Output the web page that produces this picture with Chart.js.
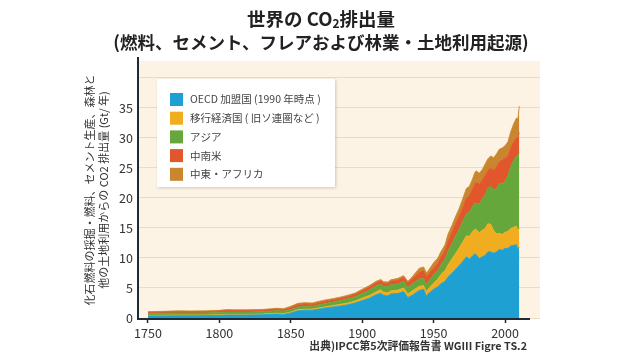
<!DOCTYPE html>
<html>
<head>
<meta charset="utf-8">
<script src="https://cdn.jsdelivr.net/npm/chart.js@4/dist/chart.umd.min.js"></script>
<style>
  html, body { margin: 0; padding: 0; background: #fff; }
  #wrap { width: 640px; height: 360px; }
</style>
</head>
<body>
<div id="wrap"><canvas id="co2Chart" width="640" height="360"></canvas></div>
<script>
// 年 (横軸)
const years = [1750, 1760, 1770, 1780, 1790, 1800, 1805, 1810, 1820, 1830, 1840, 1845,
  1850, 1855, 1860, 1865, 1870, 1875, 1880, 1885, 1890, 1895, 1900, 1905, 1910, 1913,
  1915, 1918, 1920, 1925, 1929, 1932, 1935, 1940, 1943, 1945, 1946, 1950, 1953, 1955,
  1958, 1960, 1963, 1965, 1968, 1970, 1973, 1975, 1977, 1979, 1980, 1982, 1984, 1986,
  1988, 1990, 1992, 1994, 1996, 1998, 2000, 2002, 2004, 2006, 2008, 2009, 2010];

// 地域別の排出量 (Gt/年)
const oecd = [0.35, 0.35, 0.38, 0.38, 0.40, 0.45, 0.50, 0.50, 0.50, 0.55, 0.65, 0.60,
  0.85, 1.20, 1.30, 1.30, 1.50, 1.70, 1.85, 2.00, 2.20, 2.50, 2.90, 3.30, 3.90, 4.10,
  3.80, 3.70, 4.00, 4.10, 4.40, 3.40, 3.80, 4.60, 4.80, 3.60, 4.00, 4.80, 5.20, 5.70,
  6.10, 6.80, 7.50, 8.00, 8.80, 9.30, 10.20, 9.80, 10.30, 10.70, 10.50, 9.90, 10.20, 10.40,
  11.00, 11.00, 10.80, 11.00, 11.40, 11.30, 11.60, 11.60, 12.00, 12.10, 12.20, 11.40, 11.80];
const transition = [0.10, 0.10, 0.12, 0.12, 0.10, 0.10, 0.12, 0.12, 0.10, 0.12, 0.15, 0.15,
  0.15, 0.20, 0.20, 0.20, 0.20, 0.20, 0.25, 0.30, 0.30, 0.35, 0.40, 0.45, 0.50, 0.60,
  0.50, 0.50, 0.50, 0.55, 0.60, 0.60, 0.70, 0.70, 0.60, 0.70, 0.80, 1.00, 1.30, 1.50,
  1.80, 2.00, 2.40, 2.60, 2.90, 3.20, 3.50, 3.80, 4.00, 4.10, 4.20, 4.30, 4.40, 4.50,
  4.70, 4.60, 3.80, 3.00, 2.70, 2.60, 2.70, 2.80, 2.90, 3.00, 3.10, 3.00, 3.20];
const asia = [0.30, 0.35, 0.35, 0.35, 0.35, 0.35, 0.38, 0.38, 0.40, 0.38, 0.40, 0.40,
  0.40, 0.45, 0.45, 0.45, 0.50, 0.55, 0.60, 0.65, 0.70, 0.70, 0.80, 0.90, 1.00, 0.90,
  1.00, 1.00, 1.05, 1.05, 1.10, 1.10, 1.20, 1.20, 1.20, 1.20, 1.10, 1.40, 1.40, 1.60,
  1.90, 2.30, 2.60, 2.90, 3.10, 3.40, 3.70, 4.00, 4.20, 4.40, 4.40, 4.80, 5.20, 5.60,
  5.90, 6.30, 6.80, 7.50, 8.30, 8.40, 8.50, 9.20, 10.30, 11.10, 11.70, 12.70, 12.50];
const latinAmerica = [0.20, 0.20, 0.20, 0.20, 0.20, 0.25, 0.25, 0.25, 0.25, 0.25, 0.28, 0.27,
  0.35, 0.40, 0.40, 0.35, 0.40, 0.40, 0.35, 0.35, 0.40, 0.40, 0.45, 0.50, 0.50, 0.55,
  0.50, 0.55, 0.55, 0.60, 0.65, 0.70, 0.80, 1.10, 1.30, 1.30, 1.30, 1.10, 1.20, 1.30,
  1.40, 1.60, 1.80, 2.00, 2.20, 2.20, 2.60, 2.70, 2.80, 3.20, 3.50, 3.30, 3.10, 3.20,
  3.00, 3.10, 3.20, 3.70, 3.60, 4.00, 3.80, 3.40, 3.10, 3.10, 3.00, 2.90, 3.40];
const middleEastAfrica = [0.10, 0.10, 0.15, 0.13, 0.15, 0.13, 0.15, 0.13, 0.13, 0.12, 0.14, 0.13,
  0.20, 0.20, 0.20, 0.20, 0.20, 0.20, 0.20, 0.20, 0.20, 0.20, 0.25, 0.25, 0.25, 0.25,
  0.25, 0.25, 0.25, 0.30, 0.30, 0.30, 0.35, 0.70, 0.60, 0.70, 0.60, 0.90, 0.90, 0.90,
  1.00, 1.20, 1.20, 1.20, 1.30, 1.50, 1.60, 1.60, 1.70, 1.90, 1.90, 1.80, 1.80, 1.90,
  1.90, 2.00, 2.10, 2.10, 2.10, 2.00, 2.10, 2.30, 2.70, 3.00, 3.30, 3.20, 4.40];

const seriesLabels = ['OECD 加盟国 (1990 年時点 )', '移行経済国 ( 旧ソ連圏など )', 'アジア', '中南米', '中東・アフリカ'];
const seriesColors = ['#1fa0d2', '#f1ad20', '#65a73b', '#e1562a', '#c9862f'];
const xTicks = [1750, 1800, 1850, 1900, 1950, 2000];
const yTicks = [0, 5, 10, 15, 20, 25, 30, 35, 40];

const JP = '"Noto Sans CJK JP", "Noto Sans", sans-serif';
const AXIS_COLOR = '#1f2a33';

function toPoints(values) {
  return years.map((yr, i) => ({ x: yr, y: values[i] }));
}

const allSeries = [oecd, transition, asia, latinAmerica, middleEastAfrica];
const datasets = allSeries.map((values, i) => ({
  label: seriesLabels[i],
  data: toPoints(values),
  backgroundColor: seriesColors[i],
  borderColor: seriesColors[i],
  borderWidth: 0.8,
  pointRadius: 0,
  tension: 0,
  fill: i === 0 ? 'origin' : '-1'
}));

// 背景、タイトル、凡例、軸タイトルなどを描く
const decorations = {
  id: 'decorations',
  beforeDraw(chart) {
    const { ctx, chartArea } = chart;
    ctx.save();
    ctx.fillStyle = '#fdf3e4';
    ctx.fillRect(chartArea.left, chartArea.top + 3, chartArea.right - chartArea.left, chartArea.bottom - chartArea.top - 3);
    ctx.restore();
  },
  afterDraw(chart) {
    const { ctx, chartArea } = chart;
    ctx.save();

    // 横軸の線 (背景より少し短い)
    ctx.strokeStyle = AXIS_COLOR;
    ctx.lineWidth = 2;
    ctx.beginPath();
    ctx.moveTo(chartArea.left - 1, chartArea.bottom + 1);
    ctx.lineTo(530, chartArea.bottom + 1);
    ctx.stroke();

    ctx.fillStyle = '#222';
    ctx.textBaseline = 'middle';

    // タイトル1行目 (CO2 の 2 は下付き)
    const p1 = '世界の CO', p2 = '排出量';
    ctx.font = 'bold 18.5px ' + JP;
    const w1 = ctx.measureText(p1).width;
    const w3 = ctx.measureText(p2).width;
    ctx.font = 'bold 12px ' + JP;
    const w2 = ctx.measureText('2').width;
    const x = 321 - (w1 + w2 + w3) / 2;
    ctx.textAlign = 'left';
    ctx.font = 'bold 18.5px ' + JP;
    ctx.fillText(p1, x, 19);
    ctx.font = 'bold 12px ' + JP;
    ctx.fillText('2', x + w1, 23);
    ctx.font = 'bold 18.5px ' + JP;
    ctx.fillText(p2, x + w1 + w2, 19);

    // タイトル2行目
    ctx.font = 'bold 17.5px ' + JP;
    ctx.textAlign = 'center';
    ctx.fillText('(燃料、セメント、フレアおよび林業・土地利用起源)', 321, 42);

    // 縦軸タイトル
    ctx.save();
    ctx.fillStyle = '#333';
    ctx.font = '11px ' + JP;
    ctx.translate(97, 190);
    ctx.rotate(-Math.PI / 2);
    ctx.textAlign = 'center';
    ctx.fillText('化石燃料の採掘・燃料、セメント生産、森林と', 0, -7);
    ctx.fillText('他の土地利用からの CO2 排出量 (Gt/ 年)', 0, 7);
    ctx.restore();

    // 出典
    ctx.fillStyle = '#333';
    ctx.font = 'bold 10.8px ' + JP;
    ctx.textAlign = 'right';
    ctx.fillText('出典)IPCC第5次評価報告書 WGIII Figre TS.2', 527, 346);

    // 凡例
    ctx.save();
    ctx.shadowColor = 'rgba(0,0,0,0.18)';
    ctx.shadowBlur = 3;
    ctx.shadowOffsetX = 1;
    ctx.shadowOffsetY = 1;
    ctx.fillStyle = '#ffffff';
    ctx.fillRect(157, 79, 178, 108);
    ctx.restore();
    ctx.font = '10.5px ' + JP;
    ctx.textAlign = 'left';
    chart.data.datasets.forEach((ds, i) => {
      const cy = 99.5 + i * 18.7;
      ctx.fillStyle = ds.backgroundColor;
      ctx.fillRect(170, cy - 6.5, 13, 13);
      ctx.fillStyle = '#444';
      ctx.fillText(ds.label, 190, cy);
    });
    ctx.restore();
  }
};

new Chart(document.getElementById('co2Chart'), {
  type: 'line',
  data: { datasets: datasets },
  options: {
    responsive: false,
    animation: false,
    devicePixelRatio: 1,
    layout: { padding: { top: 58, right: 100, left: 0, bottom: 0 } },
    plugins: {
      legend: { display: false },
      tooltip: { enabled: false }
    },
    scales: {
      x: {
        type: 'linear',
        min: 1743,
        max: 2024.5,
        afterFit: (scale) => { scale.height = 42; },
        afterBuildTicks: (scale) => { scale.ticks = xTicks.map(v => ({ value: v })); },
        grid: { drawOnChartArea: false, drawTicks: true, tickLength: 5, tickColor: AXIS_COLOR, tickWidth: 1.5 },
        border: { display: false },
        ticks: {
          padding: 3,
          color: '#333',
          font: { family: JP, size: 12.5 },
          maxRotation: 0,
          callback: (v) => String(v)
        }
      },
      y: {
        stacked: true,
        min: 0,
        max: 43.3,
        afterFit: (scale) => { scale.width = 138; },
        afterBuildTicks: (scale) => { scale.ticks = yTicks.map(v => ({ value: v })); },
        grid: { color: '#ebdbc4', lineWidth: 1, drawTicks: false },
        border: { display: true, color: AXIS_COLOR, width: 2 },
        ticks: {
          padding: 5,
          color: '#333',
          font: { family: JP, size: 12.5 },
          callback: (v) => (v === 40 ? '' : String(v))
        }
      }
    }
  },
  plugins: [decorations]
});
</script>
</body>
</html>
